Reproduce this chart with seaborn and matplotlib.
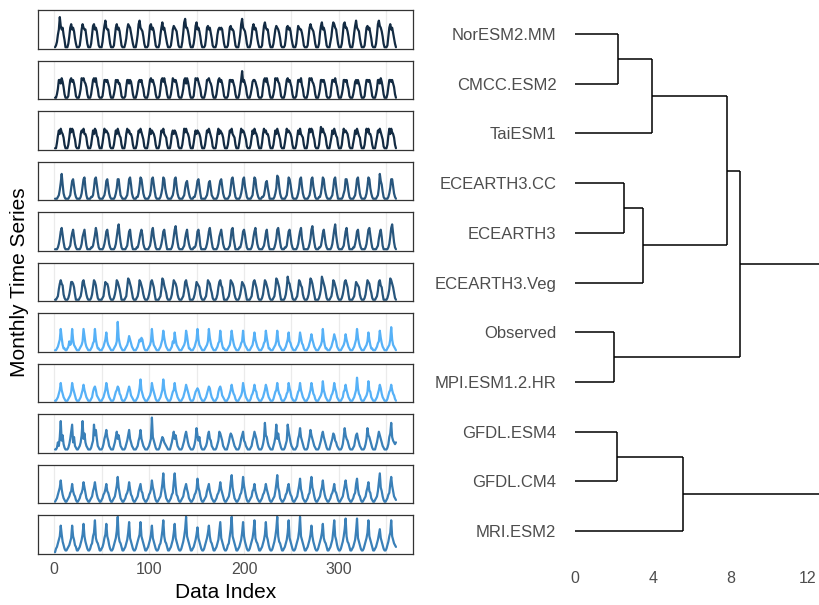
import numpy as np
import pandas as pd
import matplotlib
matplotlib.use("Agg")
import matplotlib.pyplot as plt
import seaborn as sns

sns.set_style("white")
plt.rcParams["font.family"] = ["Liberation Sans", "DejaVu Sans"]

# ---------------- data ----------------
models = ["NorESM2.MM", "CMCC.ESM2", "TaiESM1", "ECEARTH3.CC", "ECEARTH3",
          "ECEARTH3.Veg", "Observed", "MPI.ESM1.2.HR", "GFDL.ESM4", "GFDL.CM4", "MRI.ESM2"]
cluster = [1, 1, 1, 2, 2, 2, 4, 4, 3, 3, 3]
cluster_colors = {1: "#132B43", 2: "#28567D", 3: "#3A80B8", 4: "#56B1F7"}

# monthly values, one 12-character string per year (base-36 digits: 0-9, a=10 ... k=20)
NorESM2_MM = ["0137ahcab740", "0026bdab9520", "0015adbaa620", "0027cdab9510", "0038cfbaa620",
              "0016bdab9510", "0025adcb8520", "0037dfba9620", "0016cdab9510", "0027beab8520",
              "0015acba9510", "0038egbb9620", "0026ceab9620", "0015bcab8510", "0027ababa620",
              "0016bcaa9510", "0037dgba9620", "0026bdab9520", "0017cebaa620", "0026acba8510",
              "0015bcab9520", "0027cbaa8510", "0016bdba9620", "0028ceab9510", "0036bedba620",
              "0027debb9620", "0038cfba9520", "0016bcab8510", "0027dfcb9620", "0016bdab8520"]
CMCC_ESM2 = ["0025aa8b9620", "0016ab9a8510", "0025bab98620", "0026ab9b7510", "0015aa9a8620",
             "0025a9a88510", "0016aa8a9620", "00259a9a7510", "0026ab9a8620", "0015ab9b8620",
             "0026ba9a8510", "0025ab8b9620", "0016bab97510", "0025aab98620", "0026ab9a8510",
             "0015aa9a8620", "0026af9a8620", "00259aa97510", "0016ab9b8620", "0025bab98510",
             "0026ab9a8620", "0015aa9b7510", "0026bab98620", "0025aa9a8510", "0016aa9b8620",
             "0025aa9a7510", "00259a8a8620", "0016aa9a8510", "0025aa8b9620", "0026aa9a8620"]
TaiESM1 = ["0037a8b98620", "0026b9ba7510", "0038a9b88620", "0026a8ba7620", "0037b9a98510",
           "0026a8b97620", "0038b9a88620", "0026a9b97510", "0037b8a98620", "0026a9b87620",
           "0038a8a97510", "0026b9b98620", "0037a8a98620", "0026a9b97510", "0038b8a98620",
           "0026a9b87620", "0037b9a97510", "0026a8b98620", "0038b9a88620", "0026a8b97510",
           "0037b9a98620", "0026a8b87620", "0038b9ba7510", "0027c9b98620", "0036a8b97620",
           "0027b9a98510", "0036a8b97620", "0027b9b88620", "0036a9b97510", "0027b8b98620"]
ECEARTH3_CC = ["0001259e8310", "000126ab7310", "000137bc6200", "001126bc8410", "000125ab7310",
               "000136bb6210", "000126bc8310", "001137cb7310", "000125bc8410", "000136cb6310",
               "000125bc7310", "0001269a6310", "001136ab7300", "0001259a6210", "000137ab7310",
               "000126bc8410", "000136bc7410", "000127cb6310", "0011259a6300", "000136dc7310",
               "000126cb8410", "000136bc7310", "000125bc7410", "001137cb6310", "000126bc7300",
               "000135bb8410", "000126bc7310", "000137cb6310", "000126ea8410", "000136bb7310"]
ECEARTH3 = ["000136ac8410", "0001269b7310", "0001379b6200", "0011258c9410", "000136ab7310",
            "000137be8410", "000126ab6200", "0011369b8310", "000125ac7410", "000136ab7300",
            "000137bd8410", "0001269b6310", "001125ab7200", "000136ac8410", "0001379b7310",
            "000126bc6300", "001136ab8410", "000137ac7310", "0001259b6200", "000136bc8410",
            "001126ab7310", "000137ac6300", "000136bd8410", "0011259b7310", "000137be8410",
            "000126ac7300", "001136ab6310", "000137bc8410", "0001269b7200", "000137ce9410"]
ECEARTH3_Veg = ["001269b98310", "00136aa97300", "00125ab86310", "00137ba84100", "00126a997310",
                "00136ba86300", "00127cb97410", "00125ba86310", "00136ab97300", "00126cb86410",
                "00137ba97310", "00125ab86300", "00136a987310", "00126ba96410", "00137ab87300",
                "00125ba97310", "00136a986300", "00126ab97410", "00137ba86310", "00126cb97300",
                "00137da96410", "00126ba87310", "00137cb96300", "00136db97410", "00125ba86310",
                "00136ab97300", "00126a987310", "00137ba96410", "00125ab87300", "00136cb97410"]
Observed = ["001246c73110", "012534c63210", "001235c84210", "001245c63110", "001246a53210",
            "001235g74210", "001235864210", "001246576310", "001235c63210", "001246b74210",
            "001254a63210", "001235b84110", "001246c63210", "001235c74210", "001245b63110",
            "001236b74210", "001245b53210", "001236a64210", "001245b74110", "001235b63210",
            "001246a54210", "001235a74310", "001246964210", "001235c63110", "001246975210",
            "001235964210", "001246c74210", "001235a63110", "001245b74210", "001236d63210"]
MPI_ESM1_2_HR = ["001246a64210", "001235a75310", "001246964210", "001257863210", "001246a74210",
                 "001356874310", "001246863210", "001247c64210", "001235a75310", "001246c74210",
                 "001356a64210", "001246975310", "001356764210", "001246874210", "001257863210",
                 "001246964310", "001235a74210", "001346965210", "001246974210", "001356a64310",
                 "001245a75210", "001356a64210", "001246a74310", "001235b64210", "001346a75210",
                 "001256964210", "001246d74310", "001235b65210", "001246974210", "001356964310"]
GFDL_ESM4 = ["112538h69421", "11247bf58321", "12359h7a5321", "11246f9c7321", "112479c86321",
             "11358b796321", "112469c75321", "112368c75321", "112357j86421", "112468754321",
             "11358b796321", "112469b85321", "11247d968421", "112359b76321", "11246ba86321",
             "11358a975321", "112479b65321", "112368b97421", "11247g985321", "11358f7a6421",
             "11246fb85321", "112379d86421", "11258c975321", "112469b86421", "11357a965321",
             "11248d976421", "112369a75321", "11247d986421", "11358b975321", "11248ag86545"]
GFDL_CM4 = ["012468c74210", "012356a64310", "012457b85210", "012368b74210", "012457a65310",
            "012369e85210", "012457b74310", "012368a65210", "012457c86310", "01236ag85210",
            "01245bg94310", "012368a75210", "012457d86310", "012368a64210", "012457b75310",
            "01236bf85210", "012458e96310", "012367a64210", "012457a75310", "01236af86210",
            "012458a64310", "012369d75210", "01245ae86310", "012368c74210", "012457a65310",
            "012369c85210", "01245ad74310", "012368b65210", "01236bg86310", "01245ae96321"]
MRI_ESM2 = ["023579fa6421", "123468f97431", "12357ag96421", "12459bi86531", "12358ag97421",
            "12468ck96531", "12357bh86421", "12468ah97531", "12357af86421", "12458ci96531",
            "12357bg86421", "12469dk97531", "12357ae86421", "12468bf96531", "12357ch86421",
            "12459dk97531", "12357bh96421", "12468ci86531", "12357ah97421", "12469dk96531",
            "12357bi86421", "12468ck97531", "12357af96421", "12468bg86531", "12357ci97421",
            "12469dj96531", "12357cj86421", "12468bi97531", "12357ad86421", "12469bi97543"]

series_by_model = {
    "NorESM2.MM": NorESM2_MM, "CMCC.ESM2": CMCC_ESM2, "TaiESM1": TaiESM1,
    "ECEARTH3.CC": ECEARTH3_CC, "ECEARTH3": ECEARTH3, "ECEARTH3.Veg": ECEARTH3_Veg,
    "Observed": Observed, "MPI.ESM1.2.HR": MPI_ESM1_2_HR, "GFDL.ESM4": GFDL_ESM4,
    "GFDL.CM4": GFDL_CM4, "MRI.ESM2": MRI_ESM2,
}

# dendrogram merges (left child, right child, new node, height)
merge_left = ["NorESM2.MM", "A", "ECEARTH3.CC", "C", "B", "Observed", "E", "GFDL.ESM4", "H", "G"]
merge_right = ["CMCC.ESM2", "TaiESM1", "ECEARTH3", "ECEARTH3.Veg", "D", "MPI.ESM1.2.HR", "F",
               "GFDL.CM4", "MRI.ESM2", "I"]
merge_node = ["A", "B", "C", "D", "E", "F", "G", "H", "I", "root"]
merge_height = [2.23, 3.95, 2.53, 3.49, 7.85, 2.03, 8.5, 2.15, 5.58, 13.4]
dendro_ticks = [0, 4, 8, 12]
x_ticks = [0, 100, 200, 300]


def decode(years):
    vals = []
    for y in years:
        y = (y + "000000000000")[:12]
        vals.extend(int(c, 36) for c in y)
    return vals


rows = []
for m, c in zip(models, cluster):
    v = decode(series_by_model[m])
    for i, val in enumerate(v):
        rows.append({"model": m, "cluster": c, "index": i + 1, "value": val})
df = pd.DataFrame(rows)

# ---------------- figure ----------------
W, H = 819, 605
fig = plt.figure(figsize=(W / 100, H / 100), dpi=100)

grey_txt = "#4D4D4D"
left_px, right_px = 38, 413
top_px, bot_px = 10, 554
gs = fig.add_gridspec(len(models), 1, left=left_px / W, right=right_px / W,
                      top=1 - top_px / H, bottom=1 - bot_px / H, hspace=0.295)

vmax = df["value"].max()
ymin, ymax = -0.05 * vmax, 1.05 * vmax
xmin, xmax = 1 - 0.05 * 359, 360 + 0.05 * 359

axes = []
for k, m in enumerate(models):
    ax = fig.add_subplot(gs[k, 0])
    axes.append(ax)
    sub = df[df["model"] == m]
    for gx in np.arange(0, 351, 50):
        ax.axvline(gx, color="#EBEBEB", lw=0.9, zorder=0)
    sns.lineplot(data=sub, x="index", y="value", ax=ax,
                 color=cluster_colors[cluster[k]], linewidth=1.6, legend=False)
    ax.set_xlim(xmin, xmax)
    ax.set_ylim(ymin, ymax)
    ax.set_yticks([])
    ax.set_ylabel("")
    ax.set_xlabel("")
    for s in ax.spines.values():
        s.set_visible(True)
        s.set_color("#333333")
        s.set_linewidth(0.9)
    if k < len(models) - 1:
        ax.set_xticks([])
    else:
        ax.set_xticks(x_ticks)
        ax.tick_params(axis="x", length=3, width=0.8, color="#333333",
                       labelsize=11.5, labelcolor=grey_txt, pad=3)

fig.text((left_px + right_px) / 2 / W, 1 - 593 / H, "Data Index",
         ha="center", va="center", fontsize=15, color="black")
fig.text(20 / W, 1 - (top_px + bot_px) / 2 / H, "Monthly Time Series",
         ha="center", va="center", rotation=90, fontsize=15, color="black")

# ---------------- dendrogram ----------------
dax = fig.add_axes([562 / W, 1 - 561 / H, 1 - 562 / W, (561 - 4) / H])
pos = {m: float(i) for i, m in enumerate(models)}
hgt = {m: 0.0 for m in models}
for l, r, n, h in zip(merge_left, merge_right, merge_node, merge_height):
    for child in (l, r):
        dax.plot([hgt[child], h], [pos[child], pos[child]], color="black", lw=1.1,
                 solid_capstyle="butt")
    dax.plot([h, h], [pos[l], pos[r]], color="black", lw=1.1, solid_capstyle="butt")
    pos[n] = (pos[l] + pos[r]) / 2
    hgt[n] = h

dax.set_ylim(len(models) - 1 + 0.6, -0.6)
dax.set_xlim(-0.67, -0.67 + (W - 562) / ((808 - 575) / 12))
dax.set_yticks(range(len(models)))
dax.set_yticklabels(models)
dax.set_xticks(dendro_ticks)
dax.tick_params(axis="y", length=0, labelsize=12, labelcolor=grey_txt, pad=4)
dax.tick_params(axis="x", length=0, labelsize=11.5, labelcolor=grey_txt, pad=7)
for s in dax.spines.values():
    s.set_visible(False)
dax.set_facecolor("none")

fig.savefig("out.png", dpi=100)
